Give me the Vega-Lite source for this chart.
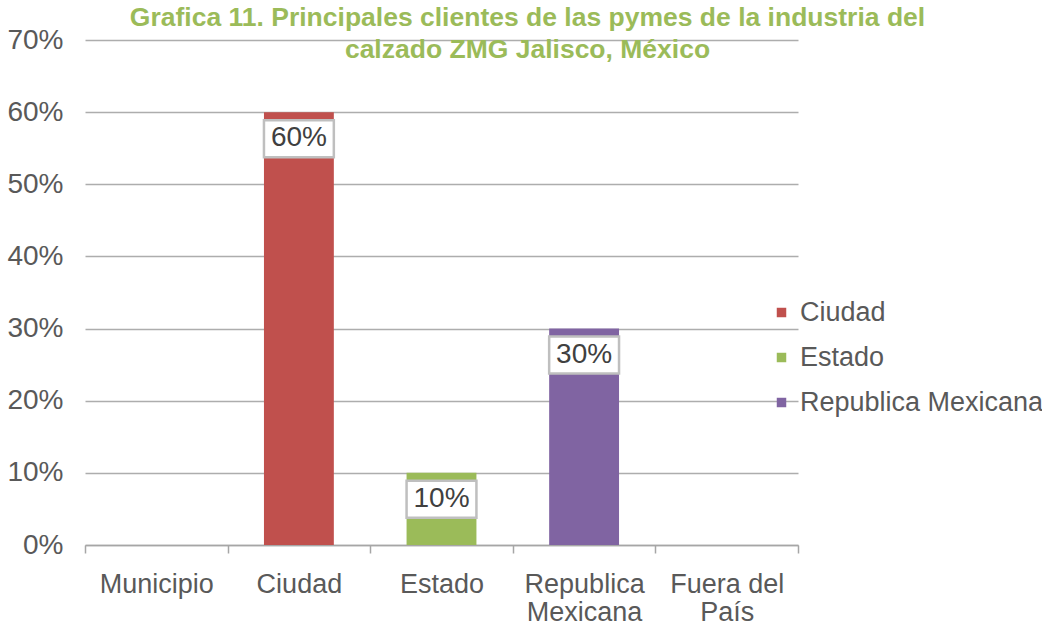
{
  "$schema": "https://vega.github.io/schema/vega-lite/v6.json",
  "width": 713,
  "height": 505,
  "autosize": {"type": "none"},
  "padding": {"left": 85, "top": 40, "right": 244, "bottom": 80},
  "background": "white",
  "title": {
    "text": ["Grafica 11. Principales clientes de las pymes de la industria del", "calzado ZMG Jalisco, México"],
    "anchor": "middle",
    "dx": 86,
    "offset": -37,
    "font": "Liberation Sans",
    "fontSize": 26.5,
    "fontWeight": "bold",
    "color": "#9BBB59",
    "lineHeight": 32
  },
  "config": {
    "view": {"stroke": null},
    "font": "Liberation Sans",
    "axis": {"labelFont": "Liberation Sans", "labelColor": "#595959", "labelFontSize": 27, "title": null}
  },
  "data": {
    "values": [
      {"categoria": "Ciudad", "serie": "Ciudad", "valor": 0.6},
      {"categoria": "Estado", "serie": "Estado", "valor": 0.1},
      {"categoria": "Republica Mexicana", "serie": "Republica Mexicana", "valor": 0.3}
    ]
  },
  "encoding": {
    "x": {
      "field": "categoria",
      "type": "nominal",
      "sort": null,
      "scale": {"domain": ["Municipio", "Ciudad", "Estado", "Republica Mexicana", "Fuera del País"], "paddingInner": 0, "paddingOuter": 0},
      "axis": {
        "labelAngle": 0,
        "tickBand": "extent",
        "tickSize": 8,
        "tickColor": "#A6A6A6",
        "tickWidth": 1.5,
        "domainColor": "#A6A6A6",
        "domainWidth": 1.5,
        "labelPadding": 18,
        "labelLineHeight": 28,
        "labelExpr": "datum.label == 'Republica Mexicana' ? ['Republica', 'Mexicana'] : datum.label == 'Fuera del País' ? ['Fuera del', 'País'] : datum.label"
      }
    }
  },
  "layer": [
    {
      "mark": {"type": "bar", "width": {"band": 0.49}},
      "encoding": {
        "y": {
          "field": "valor",
          "type": "quantitative",
          "scale": {"domain": [0, 0.7], "nice": false},
          "axis": {
            "format": ".0%",
            "values": [0, 0.1, 0.2, 0.3, 0.4, 0.5, 0.6, 0.7],
            "domain": false,
            "ticks": false,
            "labelPadding": 22,
            "labelFontSize": 28,
            "gridColor": "#ADADAD",
            "gridWidth": 1.5
          }
        },
        "color": {
          "field": "serie",
          "type": "nominal",
          "scale": {"domain": ["Ciudad", "Estado", "Republica Mexicana"], "range": ["#C0504D", "#9BBB59", "#8064A2"]},
          "legend": {
            "title": null,
            "orient": "none",
            "legendX": 683,
            "legendY": 259,
            "symbolType": "square",
            "symbolSize": 90,
            "symbolStrokeWidth": 0,
            "labelFontSize": 27,
            "labelColor": "#595959",
            "labelOffset": 5,
            "labelLimit": 400,
            "rowPadding": 17,
            "labelFont": "Liberation Sans"
          }
        }
      }
    },
    {
      "mark": {"type": "bar", "width": {"band": 0.49}, "fill": "white", "stroke": "#BFBFBF", "strokeWidth": 2.5, "yOffset": 8, "y2Offset": 45},
      "encoding": {
        "y": {"field": "valor", "type": "quantitative"},
        "y2": {"field": "valor"}
      }
    },
    {
      "mark": {"type": "text", "dy": 26, "baseline": "middle", "align": "center", "fontSize": 28, "color": "#404040", "font": "Liberation Sans"},
      "encoding": {
        "y": {"field": "valor", "type": "quantitative"},
        "text": {"field": "valor", "type": "quantitative", "format": ".0%"}
      }
    }
  ]
}
